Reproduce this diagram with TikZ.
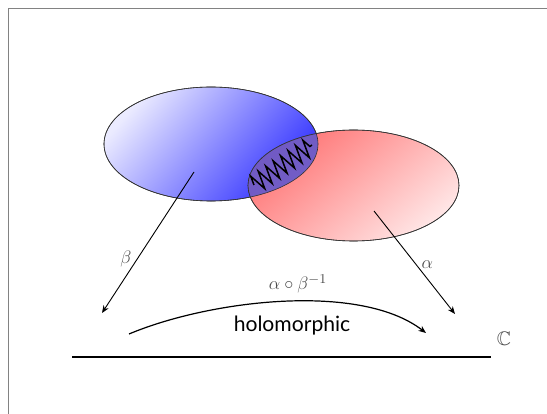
\documentclass[tikz,border=0pt]{standalone}
\usepackage{amsmath, amssymb}
\usepackage{fontspec}
\setsansfont{Lato}
\usetikzlibrary{arrows.meta, shapes.geometric, decorations.pathmorphing}
\definecolor{schnitt}{RGB}{98,88,205}
\definecolor{rahmen}{RGB}{130,130,130}

\begin{document}
\begin{tikzpicture}[x=0.663pt, y=-0.663pt,
        chart/.style={ellipse, draw=black!80, inner sep=0pt},
        map/.style={-{Stealth[length=5pt, width=4pt]}, semithick},
        lbl/.style={text=black!70, font=\fontsize{13}{15}\selectfont},
      ]
      \useasboundingbox (0,0) rectangle (547,414);
      \draw[rahmen, line width=1pt] (8.5,414) |- (547,8.5);

      % Karten
      \node[chart, minimum width=141.9pt, minimum height=75.6pt,
            shading=axis, top color=blue!8, bottom color=blue!80,
            shading angle=50] (U) at (211,144) {};
      \node[chart, minimum width=139.9pt, minimum height=73.6pt,
            shading=axis, top color=red!55, bottom color=red!10,
            shading angle=40] (V) at (353.5,185.5) {};
      \begin{scope}
        \clip (211,144) ellipse [x radius=107, y radius=57];
        \fill[schnitt, fill opacity=0.9] (353.5,185.5) ellipse [x radius=105.5, y radius=55.5];
      \end{scope}
      \draw[black!80] (211,144) ellipse [x radius=107, y radius=57];
      \draw[black!80] (353.5,185.5) ellipse [x radius=105.5, y radius=55.5];
      \coordinate (z1) at (254,185);
      \coordinate (z2) at (312,145);
      \draw[line width=1pt, decorate, decoration={zigzag, segment length=6pt, amplitude=6pt}]
        (z1) -- (z2);

      \coordinate (pU) at (194,172);
      \coordinate (pV) at (374,211);
      \coordinate (bU) at (102,313);
      \coordinate (bV) at (455,314);
      \coordinate (h1) at (129,334);
      \coordinate (h2) at (426,333);

      \draw[map] (pU) -- node[lbl, pos=0.62, left] (beta) {$\beta$} (bU);
      \draw[map] (pV) -- node[lbl, pos=0.52, right] (alpha) {$\alpha$} (bV);
      \draw[map, thick] (h1) .. controls (210,300) and (360,282) .. (h2);
      \node[lbl] (komp) at (298,284) {$\alpha\circ\beta^{-1}$};
      \node[font=\sffamily\fontsize{14}{16}\selectfont] (holo) at (292,326) {holomorphic};

      % Ebene
      \coordinate (c1) at (72,357);
      \coordinate (c2) at (491,357);
      \draw[line width=1.2pt] (c1) -- (c2);
      \node[lbl] (C) at (504,339) {$\mathbb{C}$};
    \end{tikzpicture}
\end{document}
